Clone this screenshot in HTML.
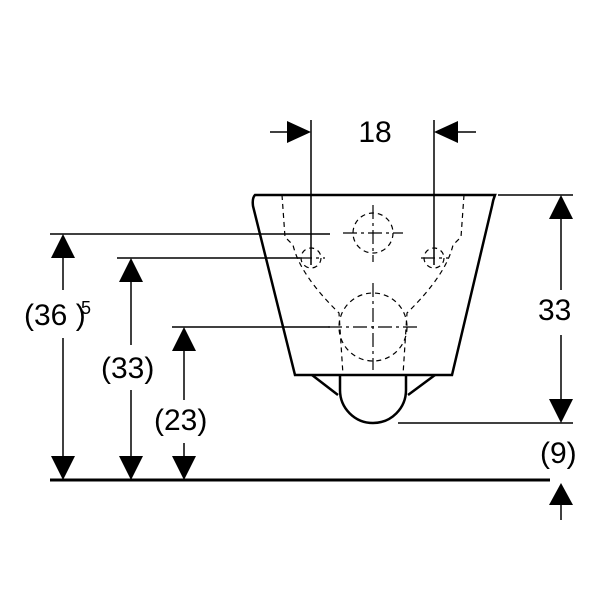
<!DOCTYPE html>
<html><head><style>body{margin:0;background:#fff}svg{display:block}text{font-family:"Liberation Sans",sans-serif;font-size:30px;fill:#000}</style></head><body>
<svg width="600" height="600" viewBox="0 0 600 600">
<g stroke="#000" stroke-width="1.5" fill="none">
<line x1="50" y1="234" x2="330" y2="234"/>
<line x1="117" y1="258" x2="300" y2="258"/>
<line x1="172" y1="327" x2="330" y2="327"/>
<line x1="498" y1="195" x2="573" y2="195"/>
<line x1="398" y1="423" x2="573" y2="423"/>
<line x1="311" y1="120" x2="311" y2="265"/>
<line x1="434" y1="120" x2="434" y2="265"/>
<line x1="270" y1="132" x2="300" y2="132"/>
<line x1="445" y1="132" x2="476" y2="132"/>
<line x1="63" y1="250" x2="63" y2="290"/><line x1="63" y1="338" x2="63" y2="460"/>
<line x1="131" y1="275" x2="131" y2="345"/><line x1="131" y1="390" x2="131" y2="460"/>
<line x1="184" y1="345" x2="184" y2="400"/><line x1="184" y1="443" x2="184" y2="460"/>
<line x1="561" y1="215" x2="561" y2="290"/><line x1="561" y1="335" x2="561" y2="405"/>
<line x1="561" y1="500" x2="561" y2="520"/>
</g>
<line x1="50" y1="480" x2="550" y2="480" stroke="#000" stroke-width="3"/>
<g fill="#000">
<polygon points="63,234 51,258 75,258"/><polygon points="63,480 51,456 75,456"/>
<polygon points="131,258 119,282 143,282"/><polygon points="131,480 119,456 143,456"/>
<polygon points="184,327 172,351 196,351"/><polygon points="184,480 172,456 196,456"/>
<polygon points="561,195 549,219 573,219"/><polygon points="561,423 549,399 573,399"/>
<polygon points="561,483 549,505 573,505"/>
<polygon points="311,132 287,121 287,143"/><polygon points="434,132 458,121 458,143"/>
</g>
<g stroke="#000" stroke-width="2.5" fill="none">
<path d="M255,195 L495,195 Q493,200 492,206 L452,375 L295,375 L253,206 Q252,198 255,195 Z"/>
<path d="M312,375 L338,395 M435,375 L408,395"/>
<path d="M340,375 L340,390 A33,33 0 0 0 406,390 L406,375"/>
</g>
<g stroke="#000" stroke-width="1.2" fill="none" stroke-dasharray="5,4">
<path d="M282,195 L285,237 L293,245 Q300,275 339,313 L343,375"/>
<path d="M464,195 L461,237 L453,245 Q446,275 407,313 L403,375"/>
<circle cx="373" cy="233" r="20"/>
<circle cx="373" cy="327" r="34"/>
<circle cx="311" cy="258" r="10"/>
<circle cx="434" cy="258" r="10"/>
</g>
<g stroke="#000" stroke-width="1.2" fill="none" stroke-dasharray="14,4,3,4">
<line x1="343" y1="233" x2="403" y2="233"/><line x1="373" y1="205" x2="373" y2="262"/>
<line x1="328" y1="327" x2="418" y2="327"/><line x1="373" y1="283" x2="373" y2="370"/>
<line x1="298" y1="258" x2="325" y2="258"/><line x1="421" y1="258" x2="448" y2="258"/>
</g>
<text x="375" y="142" text-anchor="middle">18</text>
<text x="24" y="325">(36 )</text>
<text x="81" y="314" style="font-size:18px">5</text>
<text x="101" y="378">(33)</text>
<text x="154" y="430">(23)</text>
<text x="538" y="320">33</text>
<text x="540" y="463">(9)</text>
</svg>
</body></html>
